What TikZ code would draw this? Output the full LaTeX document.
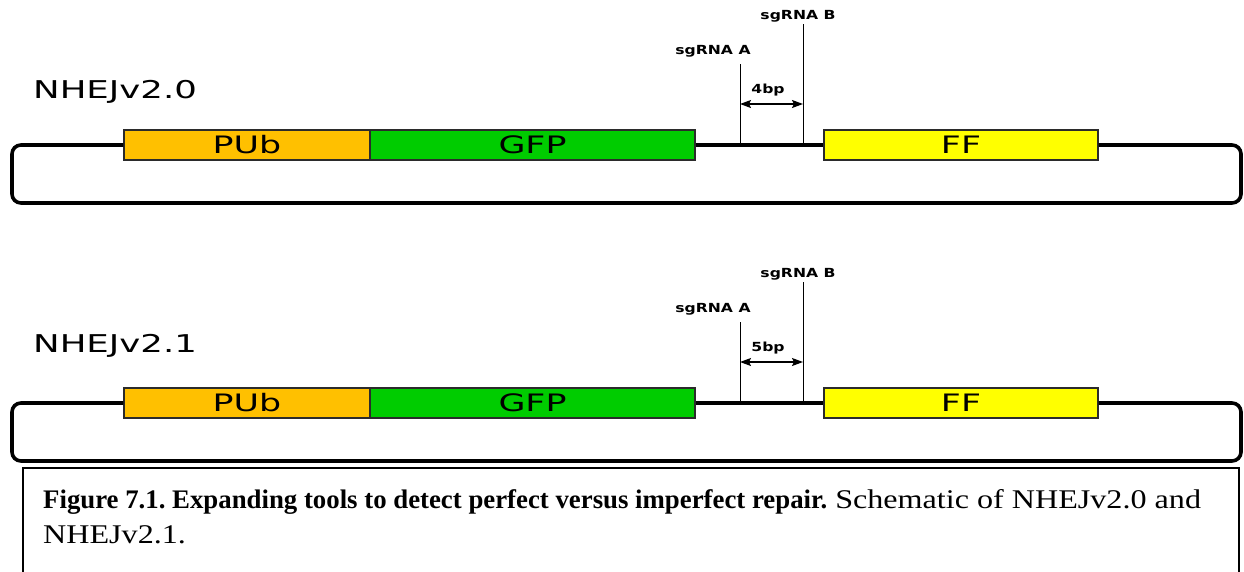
\documentclass[tikz,border=0pt]{standalone}
\usepackage{fontspec}
\setmainfont{Liberation Serif}
\newfontfamily\partfont[FakeStretch=1.45]{DejaVu Sans}
\newfontfamily\tagfont[FakeStretch=1.25]{DejaVu Sans Bold}
\newfontfamily\captext[FakeStretch=1.19]{Liberation Serif}
\usetikzlibrary{arrows.meta}

\definecolor{pubcol}{HTML}{FFC000}
\definecolor{gfpcol}{HTML}{00CC00}
\definecolor{ffcol}{HTML}{FFFF00}
\definecolor{edgecol}{HTML}{2B2B2B}

\tikzset{
  part/.style={draw=edgecol, line width=1.1pt, inner sep=0pt, minimum height=30pt,
               font=\partfont\fontsize{24}{28}\selectfont},
  backbone/.style={line width=3.6pt, black},
  cutline/.style={line width=1pt, black},
  spacer/.style={line width=1.3pt, black, {Stealth[length=11pt,width=8pt,inset=2pt]}-{Stealth[length=11pt,width=8pt,inset=2pt]}},
  tag/.style={font=\tagfont\fontsize{12.5}{14}\selectfont, inner sep=0pt},
  title/.style={font=\partfont\fontsize{24.5}{28}\selectfont, inner sep=0pt, anchor=base west},
  captionline/.style={anchor=base west, inner sep=0pt},
}

\begin{document}
\frenchspacing
\begin{tikzpicture}[x=1pt, y=-1pt]
\useasboundingbox (0,0) rectangle (1244,571);

% ---- plasmid construct NHEJv2.0 ----
\begin{scope}
  \node[title] (t1) at (33,98) {NHEJv2.0};
  \node[part, fill=pubcol, minimum width=246pt] (pub1) at (247,145) {PUb};
  \node[part, fill=gfpcol, minimum width=325pt] (gfp1) at (532.5,145) {GFP};
  \node[part, fill=ffcol,  minimum width=274pt] (ff1)  at (961,145) {FF};
  \coordinate (l1) at (12,203);
  \coordinate (r1) at (1241,203);
  \draw[backbone, rounded corners=9pt] (pub1.west) -| (l1) -- (r1) |- (ff1.east);
  \draw[backbone] (gfp1.east) -- (ff1.west);
  \coordinate (ca1) at (740,145);
  \coordinate (cb1) at (803,145);
  \coordinate (ta1) at (740,64);
  \coordinate (tb1) at (803,24);
  \draw[cutline] (ca1) -- (ta1);
  \draw[cutline] (cb1) -- (tb1);
  \node[tag] (sa1) at (713,51) {sgRNA A};
  \node[tag] (sb1) at (798,16) {sgRNA B};
  \coordinate (ma1) at (740,104);
  \coordinate (mb1) at (803,104);
  \draw[spacer] (ma1) -- (mb1);
  \node[tag] (gap1) at (768,90) {4bp};
\end{scope}

% ---- plasmid construct NHEJv2.1 ----
\begin{scope}[shift={(0,258)}]
  \node[title] (t2) at (33,94) {NHEJv2.1};
  \node[part, fill=pubcol, minimum width=246pt] (pub2) at (247,145) {PUb};
  \node[part, fill=gfpcol, minimum width=325pt] (gfp2) at (532.5,145) {GFP};
  \node[part, fill=ffcol,  minimum width=274pt] (ff2)  at (961,145) {FF};
  \coordinate (l2) at (12,203);
  \coordinate (r2) at (1241,203);
  \draw[backbone, rounded corners=9pt] (pub2.west) -| (l2) -- (r2) |- (ff2.east);
  \draw[backbone] (gfp2.east) -- (ff2.west);
  \coordinate (ca2) at (740,145);
  \coordinate (cb2) at (803,145);
  \coordinate (ta2) at (740,64);
  \coordinate (tb2) at (803,24);
  \draw[cutline] (ca2) -- (ta2);
  \draw[cutline] (cb2) -- (tb2);
  \node[tag] (sa2) at (713,51) {sgRNA A};
  \node[tag] (sb2) at (798,16) {sgRNA B};
  \coordinate (ma2) at (740,104);
  \coordinate (mb2) at (803,104);
  \draw[spacer] (ma2) -- (mb2);
  \node[tag] (gap2) at (768,90) {5bp};
\end{scope}

% ---- caption frame (runs past the lower edge) ----
\coordinate (fb1) at (23,590);
\coordinate (fb2) at (1239,590);
\draw[line width=2pt] (fb1) |- (1239,468) -- (fb2);

\node[captionline] (cap1) at (43,508)
  {{\bfseries\fontsize{26.8}{30}\selectfont Figure 7.1. Expanding tools to detect perfect versus imperfect repair.}{\captext\fontsize{27}{32}\selectfont\ Schematic of NHEJv2.0 and}};
\node[captionline, font=\captext\fontsize{27}{32}\selectfont] (cap2) at (43,543) {NHEJv2.1.};
\end{tikzpicture}
\end{document}
